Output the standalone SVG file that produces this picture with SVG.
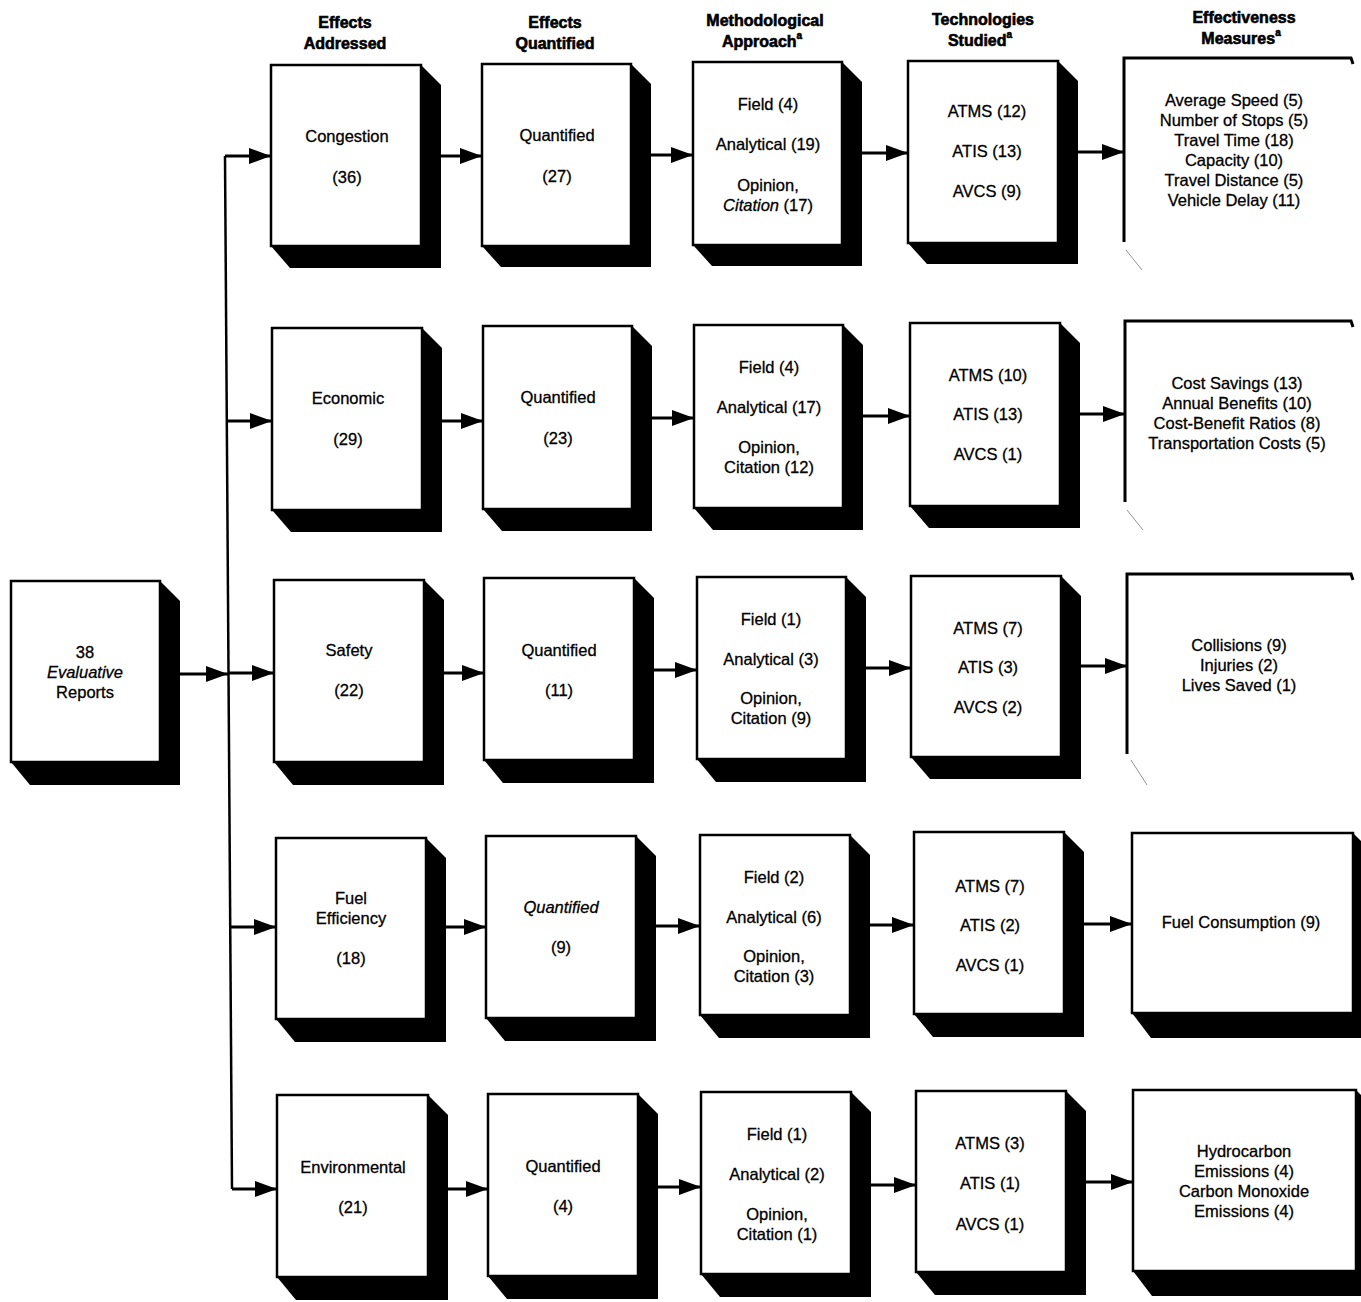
<svg xmlns="http://www.w3.org/2000/svg" width="1361" height="1302" viewBox="0 0 1361 1302">
<style>
.bx{fill:#fff;stroke:#000;stroke-width:2.5}
.sh{fill:#000}
.ln{fill:none;stroke:#000;stroke-width:2.5}
.fn{fill:none;stroke:#777;stroke-width:0.8}
.ed{fill:none;stroke:#000;stroke-width:3}
.c{stroke:#000;stroke-width:3;fill:none;marker-end:url(#ah)}
text{font-family:"Liberation Sans",Arial,sans-serif;font-size:16.5px;fill:#000;stroke:#000;stroke-width:0.3;text-anchor:middle}
.h{font-weight:bold;font-size:16px;stroke-width:0.6}
.sup{font-size:10px}
.it{font-style:italic}
</style>
<defs>
<marker id="ah" viewBox="0 0 22 16" markerWidth="22" markerHeight="16" refX="22" refY="8" orient="auto" markerUnits="userSpaceOnUse">
<path d="M0,0 L22,8 L0,16 z" fill="#000"/>
</marker>
</defs>
<rect width="1361" height="1302" fill="#fff"/>

<g id="headers">
<text class="h" x="345" y="28">Effects</text>
<text class="h" x="345" y="49">Addressed</text>
<text class="h" x="555" y="28">Effects</text>
<text class="h" x="555" y="49">Quantified</text>
<text class="h" x="765" y="26">Methodological</text>
<text class="h" x="762" y="47">Approach<tspan class="sup" dy="-8">a</tspan></text>
<text class="h" x="983" y="25">Technologies</text>
<text class="h" x="980" y="46">Studied<tspan class="sup" dy="-8">a</tspan></text>
<text class="h" x="1244" y="23">Effectiveness</text>
<text class="h" x="1241" y="44">Measures<tspan class="sup" dy="-8">a</tspan></text>
</g>

<g id="connectors">
<path class="ln" d="M225,156 L232,1189"/>
<path class="c" d="M180,674 L228,674"/>
<path class="c" d="M225,156 L271,156"/>
<path class="c" d="M227,421 L272,421"/>
<path class="c" d="M229,673 L274,673"/>
<path class="c" d="M230,927 L276,927"/>
<path class="c" d="M232,1189 L277,1189"/>
<path class="c" d="M441,156 L482,156"/>
<path class="c" d="M651,155 L693,155"/>
<path class="c" d="M862,153 L908,153"/>
<path class="c" d="M1078,152 L1124,152"/>
<path class="c" d="M442,421 L483,421"/>
<path class="c" d="M652,418 L694,418"/>
<path class="c" d="M863,416 L910,416"/>
<path class="c" d="M1080,414 L1125,414"/>
<path class="c" d="M444,673 L484,673"/>
<path class="c" d="M654,670 L697,670"/>
<path class="c" d="M866,668 L911,668"/>
<path class="c" d="M1081,666 L1127,666"/>
<path class="c" d="M446,927 L486,927"/>
<path class="c" d="M656,926 L700,926"/>
<path class="c" d="M870,925 L914,925"/>
<path class="c" d="M1084,924 L1132,924"/>
<path class="c" d="M448,1189 L488,1189"/>
<path class="c" d="M658,1187 L701,1187"/>
<path class="c" d="M871,1185 L916,1185"/>
<path class="c" d="M1086,1182 L1133,1182"/>
</g>

<g id="n_reports">
<polygon class="sh" points="160,581 180,601 180,785 30,785 11,762"/>
<rect class="bx" x="11" y="581" width="149" height="181"/>
<text x="85" y="658">38</text>
<text x="85" y="678" class="it">Evaluative</text>
<text x="85" y="698">Reports</text>
</g>

<!-- Row 1 -->
<g id="n_congestion">
<polygon class="sh" points="421,65 441,85 441,268 290,268 271,246"/>
<rect class="bx" x="271" y="65" width="150" height="181"/>
<text x="347" y="142">Congestion</text>
<text x="347" y="183">(36)</text>
</g>
<g id="n_quant1">
<polygon class="sh" points="631,64 651,84 651,267 501,267 482,246"/>
<rect class="bx" x="482" y="64" width="149" height="182"/>
<text x="557" y="141">Quantified</text>
<text x="557" y="182">(27)</text>
</g>
<g id="n_method1">
<polygon class="sh" points="842,62 862,82 862,266 712,266 693,245"/>
<rect class="bx" x="693" y="62" width="149" height="183"/>
<text x="768" y="110">Field (4)</text>
<text x="768" y="150">Analytical (19)</text>
<text x="768" y="191">Opinion,</text>
<text x="768" y="211"><tspan class="it">Citation</tspan> (17)</text>
</g>
<g id="n_tech1">
<polygon class="sh" points="1058,61 1078,81 1078,264 927,264 908,243"/>
<rect class="bx" x="908" y="61" width="150" height="182"/>
<text x="987" y="117">ATMS (12)</text>
<text x="987" y="157">ATIS (13)</text>
<text x="987" y="197">AVCS (9)</text>
</g>
<g id="n_eff1">
<path class="ed" d="M1124,242 L1124,58 L1351,58 L1353,64"/>
<path class="fn" d="M1126,250 L1142,270"/>
<text x="1234" y="106">Average Speed (5)</text>
<text x="1234" y="126">Number of Stops (5)</text>
<text x="1234" y="146">Travel Time (18)</text>
<text x="1234" y="166">Capacity (10)</text>
<text x="1234" y="186">Travel Distance (5)</text>
<text x="1234" y="206">Vehicle Delay (11)</text>
</g>

<!-- Row 2 -->
<g id="n_economic">
<polygon class="sh" points="422,328 442,348 442,532 291,532 272,510"/>
<rect class="bx" x="272" y="328" width="150" height="182"/>
<text x="348" y="404">Economic</text>
<text x="348" y="445">(29)</text>
</g>
<g id="n_quant2">
<polygon class="sh" points="632,326 652,346 652,531 502,531 483,509"/>
<rect class="bx" x="483" y="326" width="149" height="183"/>
<text x="558" y="403">Quantified</text>
<text x="558" y="444">(23)</text>
</g>
<g id="n_method2">
<polygon class="sh" points="843,325 863,345 863,530 713,530 694,508"/>
<rect class="bx" x="694" y="325" width="149" height="183"/>
<text x="769" y="373">Field (4)</text>
<text x="769" y="413">Analytical (17)</text>
<text x="769" y="453">Opinion,</text>
<text x="769" y="473">Citation (12)</text>
</g>
<g id="n_tech2">
<polygon class="sh" points="1060,323 1080,343 1080,528 929,528 910,506"/>
<rect class="bx" x="910" y="323" width="150" height="183"/>
<text x="988" y="381">ATMS (10)</text>
<text x="988" y="420">ATIS (13)</text>
<text x="988" y="460">AVCS (1)</text>
</g>
<g id="n_eff2">
<path class="ed" d="M1125,502 L1125,321 L1351,321 L1353,327"/>
<path class="fn" d="M1127,510 L1143,530"/>
<text x="1237" y="389">Cost Savings (13)</text>
<text x="1237" y="409">Annual Benefits (10)</text>
<text x="1237" y="429">Cost-Benefit Ratios (8)</text>
<text x="1237" y="449">Transportation Costs (5)</text>
</g>

<!-- Row 3 -->
<g id="n_safety">
<polygon class="sh" points="424,580 444,600 444,785 293,785 274,762"/>
<rect class="bx" x="274" y="580" width="150" height="182"/>
<text x="349" y="656">Safety</text>
<text x="349" y="696">(22)</text>
</g>
<g id="n_quant3">
<polygon class="sh" points="634,578 654,598 654,783 503,783 484,760"/>
<rect class="bx" x="484" y="578" width="150" height="182"/>
<text x="559" y="656">Quantified</text>
<text x="559" y="696">(11)</text>
</g>
<g id="n_method3">
<polygon class="sh" points="846,577 866,597 866,782 716,782 697,759"/>
<rect class="bx" x="697" y="577" width="149" height="182"/>
<text x="771" y="625">Field (1)</text>
<text x="771" y="665">Analytical (3)</text>
<text x="771" y="704">Opinion,</text>
<text x="771" y="724">Citation (9)</text>
</g>
<g id="n_tech3">
<polygon class="sh" points="1061,576 1081,596 1081,779 930,779 911,757"/>
<rect class="bx" x="911" y="576" width="150" height="181"/>
<text x="988" y="634">ATMS (7)</text>
<text x="988" y="673">ATIS (3)</text>
<text x="988" y="713">AVCS (2)</text>
</g>
<g id="n_eff3">
<path class="ed" d="M1127,754 L1127,574 L1351,574 L1353,580"/>
<path class="fn" d="M1131,760 L1147,785"/>
<text x="1239" y="651">Collisions (9)</text>
<text x="1239" y="671">Injuries (2)</text>
<text x="1239" y="691">Lives Saved (1)</text>
</g>

<!-- Row 4 -->
<g id="n_fuel">
<polygon class="sh" points="426,838 446,858 446,1042 295,1042 276,1019"/>
<rect class="bx" x="276" y="838" width="150" height="181"/>
<text x="351" y="904">Fuel</text>
<text x="351" y="924">Efficiency</text>
<text x="351" y="964">(18)</text>
</g>
<g id="n_quant4">
<polygon class="sh" points="636,836 656,856 656,1041 505,1041 486,1018"/>
<rect class="bx" x="486" y="836" width="150" height="182"/>
<text x="561" y="913" class="it">Quantified</text>
<text x="561" y="953">(9)</text>
</g>
<g id="n_method4">
<polygon class="sh" points="850,835 870,855 870,1038 719,1038 700,1015"/>
<rect class="bx" x="700" y="835" width="150" height="180"/>
<text x="774" y="883">Field (2)</text>
<text x="774" y="923">Analytical (6)</text>
<text x="774" y="962">Opinion,</text>
<text x="774" y="982">Citation (3)</text>
</g>
<g id="n_tech4">
<polygon class="sh" points="1064,832 1084,852 1084,1037 933,1037 914,1014"/>
<rect class="bx" x="914" y="832" width="150" height="182"/>
<text x="990" y="892">ATMS (7)</text>
<text x="990" y="931">ATIS (2)</text>
<text x="990" y="971">AVCS (1)</text>
</g>
<g id="n_eff4">
<polygon class="sh" points="1353,833 1373,853 1373,1038 1151,1038 1132,1013"/>
<rect class="bx" x="1132" y="833" width="221" height="180"/>
<text x="1241" y="928">Fuel Consumption (9)</text>
</g>

<!-- Row 5 -->
<g id="n_environmental">
<polygon class="sh" points="428,1095 448,1115 448,1300 296,1300 277,1277"/>
<rect class="bx" x="277" y="1095" width="151" height="182"/>
<text x="353" y="1173">Environmental</text>
<text x="353" y="1213">(21)</text>
</g>
<g id="n_quant5">
<polygon class="sh" points="638,1094 658,1114 658,1299 507,1299 488,1276"/>
<rect class="bx" x="488" y="1094" width="150" height="182"/>
<text x="563" y="1172">Quantified</text>
<text x="563" y="1212">(4)</text>
</g>
<g id="n_method5">
<polygon class="sh" points="851,1092 871,1112 871,1297 720,1297 701,1274"/>
<rect class="bx" x="701" y="1092" width="150" height="182"/>
<text x="777" y="1140">Field (1)</text>
<text x="777" y="1180">Analytical (2)</text>
<text x="777" y="1220">Opinion,</text>
<text x="777" y="1240">Citation (1)</text>
</g>
<g id="n_tech5">
<polygon class="sh" points="1066,1091 1086,1111 1086,1295 935,1295 916,1272"/>
<rect class="bx" x="916" y="1091" width="150" height="181"/>
<text x="990" y="1149">ATMS (3)</text>
<text x="990" y="1189">ATIS (1)</text>
<text x="990" y="1230">AVCS (1)</text>
</g>
<g id="n_eff5">
<polygon class="sh" points="1356,1090 1376,1110 1376,1296 1152,1296 1133,1271"/>
<rect class="bx" x="1133" y="1090" width="223" height="181"/>
<text x="1244" y="1157">Hydrocarbon</text>
<text x="1244" y="1177">Emissions (4)</text>
<text x="1244" y="1197">Carbon Monoxide</text>
<text x="1244" y="1217">Emissions (4)</text>
</g>
</svg>
